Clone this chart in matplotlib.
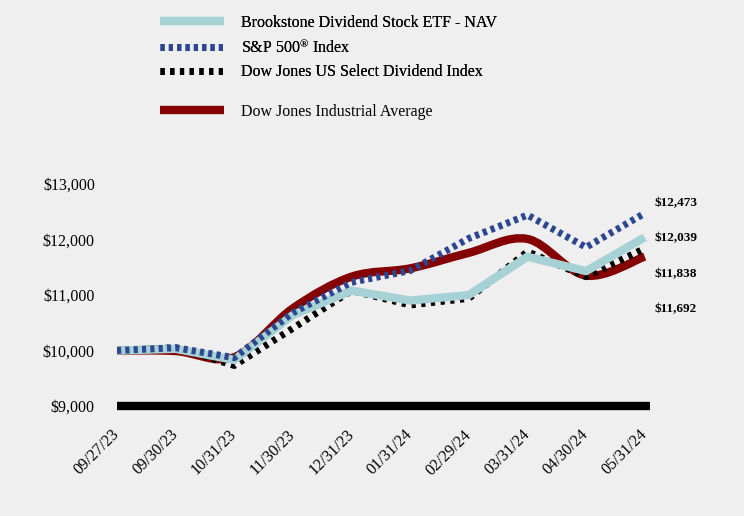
import matplotlib
matplotlib.use("Agg")
import matplotlib.pyplot as plt
from matplotlib.lines import Line2D
from matplotlib.path import Path
from matplotlib.patches import PathPatch
from matplotlib.ticker import FuncFormatter

plt.rcParams['font.family'] = ['Liberation Serif', 'DejaVu Serif']
plt.rcParams['mathtext.fontset'] = 'custom'
plt.rcParams['mathtext.rm'] = 'Liberation Serif'
plt.rcParams['mathtext.it'] = 'Liberation Serif'
plt.rcParams['lines.scale_dashes'] = False

dates = ["09/27/23", "09/30/23", "10/31/23", "11/30/23", "12/31/23",
         "01/31/24", "02/29/24", "03/31/24", "04/30/24", "05/31/24"]
brookstone = [10000, 10030, 9830, 10640, 11080, 10900, 11000, 11690, 11430, 12039]
sp500 = [10000, 10050, 9870, 10680, 11230, 11440, 12020, 12440, 11860, 12473]
dj_select = [10000, 10050, 9730, 10400, 11080, 10820, 10940, 11780, 11330, 11838]
djia = [10000, 9990, 9880, 10760, 11330, 11480, 11760, 12010, 11350, 11692]
yticks = [9000, 10000, 11000, 12000, 13000]

labels = ["Brookstone Dividend Stock ETF - NAV", "S&P 500$^{\u00ae}$ Index",
          "Dow Jones US Select Dividend Index", "Dow Jones Industrial Average"]

bg = '#efefef'
c_light = '#a6d2d6'
c_blue = '#2c4690'
c_red = '#850000'
c_black = '#000000'

fig = plt.figure(figsize=(7.44, 5.16), dpi=100, facecolor=bg)
ax = fig.add_axes([117/744, 1 - 406/516, (650-117)/744, (406-184)/516])
ax.set_facecolor(bg)

x = list(range(len(dates)))


def smooth_path(xs, ys):
    """Bezier path through the data points (Catmull-Rom style smoothing)."""
    pts = list(zip(xs, ys))
    n = len(pts)
    verts = [pts[0]]
    codes = [Path.MOVETO]
    for i in range(n - 1):
        p0 = pts[i - 1] if i > 0 else pts[i]
        p1 = pts[i]
        p2 = pts[i + 1]
        p3 = pts[i + 2] if i + 2 < n else pts[i + 1]
        c1 = (p1[0] + (p2[0] - p0[0]) / 6, p1[1] + (p2[1] - p0[1]) / 6)
        c2 = (p2[0] - (p3[0] - p1[0]) / 6, p2[1] - (p3[1] - p1[1]) / 6)
        verts += [c1, c2, p2]
        codes += [Path.CURVE4] * 3
    return Path(verts, codes)


ax.add_patch(PathPatch(smooth_path(x, djia), fill=False, edgecolor=c_red, lw=6,
                       capstyle='butt', joinstyle='round', zorder=2))
ax.plot(x, dj_select, color=c_black, lw=5, dashes=(3, 4), zorder=3)
ax.plot(x, brookstone, color=c_light, lw=6, solid_joinstyle='round', solid_capstyle='butt', zorder=4)
ax.plot(x, sp500, color=c_blue, lw=5, dashes=(3, 3), zorder=5)

ax.set_xlim(-0.0, 9.09)
ax.set_ylim(9000, 13000)
ax.set_yticks(yticks)
ax.yaxis.set_major_formatter(FuncFormatter(lambda v, p: f"${v:,.0f}"))
ax.set_xticks(x)
ax.set_xticklabels(dates, rotation=45, ha='right', va='center', rotation_mode='anchor')
ax.tick_params(axis='both', length=0, labelsize=11.5)
ax.tick_params(axis='y', pad=16)
ax.tick_params(axis='x', pad=19)
for s in ['left', 'top', 'right']:
    ax.spines[s].set_visible(False)
ax.spines['bottom'].set_linewidth(6)
ax.spines['bottom'].set_color('black')
ax.spines['bottom'].set_capstyle('butt')

# End-value labels
end_vals = [sp500[-1], brookstone[-1], dj_select[-1], djia[-1]]
for i, v in enumerate(end_vals):
    ax.text(1.008, 0.912 - i * 0.158, f"${v:,.0f}", transform=ax.transAxes,
            fontsize=9.5, fontweight='bold', ha='left', va='center')

# Legends
h1 = [Line2D([], [], color=c_light, lw=6, solid_capstyle='butt'),
      Line2D([], [], color=c_blue, lw=5, dashes=(3, 3)),
      Line2D([], [], color=c_black, lw=5, dashes=(3, 4))]
leg1 = fig.legend(h1, labels[:3], loc='upper left', bbox_to_anchor=(160/744, 1 - 15/516),
                  frameon=False, fontsize=11.5, handlelength=4.0, handletextpad=1.1,
                  labelspacing=0.48, borderaxespad=0, borderpad=0)
h2 = [Line2D([], [], color=c_red, lw=6, solid_capstyle='butt')]
leg2 = fig.legend(h2, labels[3:], loc='upper left', bbox_to_anchor=(160/744, 1 - 104/516),
                  frameon=False, fontsize=11.5, handlelength=4.0, handletextpad=1.1,
                  borderaxespad=0, borderpad=0)
fig.add_artist(leg1)

fig.savefig('out.png', dpi=100, facecolor=bg)
